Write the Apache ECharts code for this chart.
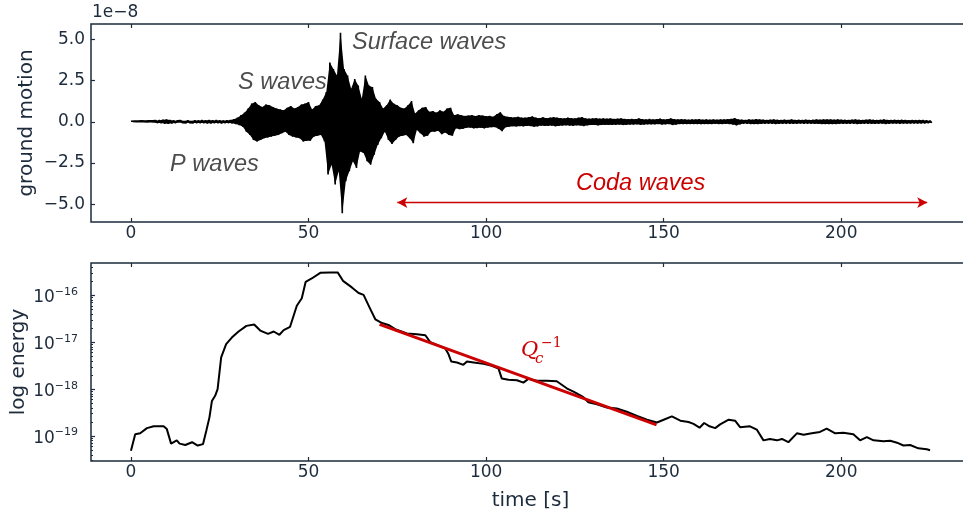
<!DOCTYPE html>
<html>
<head>
<meta charset="utf-8">
<script src="https://cdn.jsdelivr.net/npm/echarts@6/dist/echarts.min.js"></script>
<style>html,body{margin:0;padding:0;background:#fff}#c{width:963px;height:514px}</style>
</head>
<body>
<div id="c"></div>
<script>
// ---------- DATA ----------
// seismogram: peak (upper) and trough (lower) per 1-s sample, units of 1e-8
const seisStart = 0, seisStep = 1;
const seisUpper = [
0.03,0.05,0.05,0.06,0.05,0.06,0.06,0.07,0.09,0.12,
0.13,0.10,0.07,0.06,0.07,0.06,0.07,0.06,0.08,0.07,
0.09,0.08,0.10,0.08,0.09,0.08,0.07,0.08,0.10,0.15,
0.25,0.40,0.55,0.80,1.10,1.20,1.00,0.90,1.05,1.00,
0.90,0.80,0.75,0.70,0.85,0.95,0.80,0.90,1.05,1.10,
1.20,0.75,0.95,1.00,1.35,1.80,3.60,3.20,2.80,5.40,
3.20,2.80,2.00,2.60,2.20,1.40,2.80,2.20,2.10,1.40,
1.20,0.80,1.00,1.35,1.10,1.00,0.85,0.80,1.00,1.25,
0.50,0.70,0.85,0.90,0.60,0.65,0.55,0.70,0.60,0.80,
0.85,0.40,0.45,0.40,0.35,0.38,0.40,0.35,0.40,0.38,
0.33,0.35,0.30,0.45,0.57,0.35,0.30,0.28,0.26,0.30,
0.25,0.25,0.28,0.32,0.25,0.22,0.27,0.22,0.25,0.28,
0.25,0.22,0.20,0.25,0.22,0.20,0.24,0.28,0.20,0.18,
0.20,0.22,0.18,0.20,0.18,0.20,0.17,0.18,0.20,0.17,
0.15,0.17,0.15,0.20,0.15,0.14,0.16,0.14,0.15,0.18,
0.14,0.15,0.20,0.15,0.13,0.15,0.14,0.12,0.14,0.13,
0.15,0.12,0.14,0.12,0.13,0.12,0.14,0.13,0.15,0.17,
0.22,0.14,0.12,0.10,0.14,0.12,0.15,0.13,0.12,0.10,
0.12,0.14,0.11,0.10,0.12,0.10,0.13,0.10,0.11,0.10,
0.12,0.10,0.11,0.13,0.12,0.14,0.13,0.14,0.12,0.13,
0.12,0.11,0.10,0.12,0.14,0.11,0.10,0.12,0.13,0.11,
0.10,0.11,0.14,0.10,0.10,0.11,0.10,0.11,0.10,0.09,
0.10,0.09,0.10,0.09,0.08,0.06];
const seisLower = [
-0.03,-0.04,-0.05,-0.05,-0.06,-0.05,-0.06,-0.07,-0.08,-0.11,
-0.12,-0.09,-0.07,-0.06,-0.06,-0.07,-0.06,-0.07,-0.07,-0.08,
-0.08,-0.09,-0.09,-0.08,-0.08,-0.09,-0.08,-0.07,-0.09,-0.14,
-0.20,-0.30,-0.60,-0.80,-1.10,-1.20,-1.10,-1.00,-0.95,-0.90,
-0.85,-0.80,-0.70,-0.60,-0.80,-0.90,-0.95,-1.00,-1.20,-1.15,
-1.15,-0.90,-0.85,-0.80,-1.20,-3.20,-2.60,-3.80,-3.00,-5.55,
-3.60,-3.00,-2.40,-2.80,-1.80,-1.90,-2.40,-2.60,-2.00,-1.40,
-1.00,-0.60,-1.10,-1.35,-1.10,-0.90,-0.85,-0.80,-1.00,-1.30,
-0.50,-0.70,-0.90,-0.85,-0.60,-0.60,-0.55,-0.75,-0.65,-0.80,
-0.85,-0.40,-0.45,-0.42,-0.36,-0.35,-0.40,-0.38,-0.36,-0.40,
-0.35,-0.33,-0.32,-0.42,-0.57,-0.33,-0.30,-0.27,-0.28,-0.26,
-0.27,-0.24,-0.26,-0.30,-0.27,-0.23,-0.25,-0.24,-0.23,-0.27,
-0.24,-0.23,-0.21,-0.23,-0.24,-0.21,-0.22,-0.26,-0.21,-0.19,
-0.19,-0.21,-0.19,-0.18,-0.19,-0.18,-0.18,-0.17,-0.19,-0.18,
-0.16,-0.16,-0.15,-0.18,-0.16,-0.15,-0.15,-0.15,-0.14,-0.17,
-0.15,-0.14,-0.19,-0.16,-0.14,-0.14,-0.13,-0.13,-0.13,-0.14,
-0.14,-0.13,-0.13,-0.13,-0.12,-0.13,-0.13,-0.12,-0.14,-0.16,
-0.21,-0.15,-0.11,-0.11,-0.13,-0.13,-0.14,-0.12,-0.11,-0.11,
-0.11,-0.13,-0.12,-0.11,-0.11,-0.11,-0.12,-0.11,-0.10,-0.11,
-0.11,-0.11,-0.12,-0.12,-0.13,-0.13,-0.14,-0.13,-0.13,-0.12,
-0.11,-0.12,-0.11,-0.11,-0.13,-0.12,-0.11,-0.11,-0.12,-0.12,
-0.11,-0.10,-0.13,-0.11,-0.10,-0.10,-0.11,-0.10,-0.10,-0.10,
-0.09,-0.10,-0.09,-0.09,-0.08,-0.06];

// energy envelope: time [s] and log10(energy)
const energyT = [0,1.2,2.6,4.5,6.4,9.2,10.1,11.3,12.9,13.7,15.3,17.2,18.8,20.3,21.2,22.1,22.8,23.7,24.4,25.4,26.8,28.4,30.3,32.5,34.7,36.4,38.6,40.2,41.8,43,44.8,46.7,48.1,49.2,50.9,53.3,56.1,58.2,59.7,62.2,64.1,65.5,67.2,68.8,70.7,72.5,74.4,77.7,80.5,82.9,84.3,88.5,89.4,90.2,91.8,93.6,94.6,96.5,99.3,101.6,103.5,104.4,106.3,108.7,110.5,111.9,114.3,117.1,119.9,122.7,124.6,127.4,128.8,131.2,134,136.8,139.6,142.5,145.3,148.1,150,152.3,154.7,157,158.4,160.1,161.4,162.9,164.5,165.9,168.3,170.1,171.5,174.3,176.2,178.1,179.9,181.9,183.3,185.1,187.5,189.4,191.7,194,195.9,198.3,200.6,203.4,205.3,207.2,209.1,211.9,213.8,215.7,217.5,219.4,221.7,224.1,225];
const energyLog = [-19.31,-18.96,-18.94,-18.83,-18.79,-18.79,-18.85,-19.16,-19.09,-19.16,-19.19,-19.13,-19.2,-19.17,-18.89,-18.6,-18.25,-18.14,-18.0,-17.32,-17.04,-16.9,-16.77,-16.65,-16.62,-16.75,-16.82,-16.77,-16.84,-16.74,-16.67,-16.22,-16.06,-15.71,-15.64,-15.52,-15.51,-15.51,-15.69,-15.83,-15.95,-15.99,-16.26,-16.51,-16.59,-16.63,-16.72,-16.81,-16.83,-16.85,-17.0,-17.13,-17.25,-17.41,-17.43,-17.48,-17.41,-17.43,-17.46,-17.5,-17.56,-17.77,-17.8,-17.81,-17.86,-17.78,-17.82,-17.82,-17.83,-17.98,-18.05,-18.17,-18.28,-18.32,-18.39,-18.41,-18.48,-18.57,-18.65,-18.71,-18.65,-18.58,-18.67,-18.7,-18.74,-18.82,-18.72,-18.79,-18.83,-18.75,-18.65,-18.67,-18.81,-18.79,-18.86,-19.09,-19.06,-19.09,-19.06,-19.13,-18.94,-18.97,-18.94,-18.91,-18.84,-18.94,-18.93,-18.96,-19.09,-19.02,-19.09,-19.11,-19.1,-19.14,-19.2,-19.19,-19.26,-19.28,-19.3];

// Q_c fit line
const fitT = [70, 148];
const fitLog = [-16.62, -18.76];

// coda arrow span (s) and height (1e-8)
const codaSpan = [75, 224.2];
const codaY = -4.9;

// ticks
const xTicks = [0, 50, 100, 150, 200];
const motionTicks = [-5, -2.5, 0, 2.5, 5];
const energyTicks = [-19, -18, -17, -16];
const energyMinorExp = [-20, -19, -18, -17, -16];
const minorMult = [2,3,4,5,6,7,8,9];

// ---------- BUILD ----------
const seisData = [];
for (let i = 0; i < seisUpper.length; i++) {
  const t = seisStart + i * seisStep;
  seisData.push([t, seisUpper[i]]);
  seisData.push([t + seisStep / 2, seisLower[i]]);
}
const energyData = energyT.map((t, i) => [t, energyLog[i]]);
const fitData = fitT.map((t, i) => [t, fitLog[i]]);
const minorTicks = [];
energyMinorExp.forEach(e => minorMult.forEach(m => {
  const v = e + Math.log10(m);
  if (v > -19.53 && v < -15.31) minorTicks.push(v);
}));

const INK = '#1d2b3c';
const FONT = 'DejaVu Sans';
const XMIN = -11.25, XMAX = 236.25;
const labelStyle = { color: INK, fontFamily: FONT, fontSize: 17 };
const noLine = { show: false, onZero: false };

function fmtMotion(v) {
  const s = Math.abs(v).toFixed(1);
  return v < 0 ? '\u2212' + s : s;
}

// filled band between the upper and lower envelopes (drawn through the axes)
function renderBand(params, api) {
  const pts = [];
  for (let i = 0; i < seisUpper.length; i++) pts.push(api.coord([seisStart + i * seisStep, seisUpper[i]]));
  for (let i = seisLower.length - 1; i >= 0; i--) pts.push(api.coord([seisStart + i * seisStep + seisStep / 2, seisLower[i]]));
  return { type: 'polygon', shape: { points: pts }, style: { fill: '#000' }, silent: true };
}

const chart = echarts.init(document.getElementById('c'), null, { renderer: 'canvas' });
chart.setOption({
  animation: false,
  backgroundColor: '#fff',
  grid: [
    { left: 91, top: 24, width: 879, height: 198, show: true, borderColor: INK, borderWidth: 1.5, backgroundColor: 'transparent', containLabel: false, outerBoundsMode: 'none' },
    { left: 91, top: 263, width: 879, height: 198, show: true, borderColor: INK, borderWidth: 1.5, backgroundColor: 'transparent', containLabel: false, outerBoundsMode: 'none' }
  ],
  xAxis: [
    { gridIndex: 0, type: 'value', min: XMIN, max: XMAX, position: 'bottom',
      axisLine: noLine, splitLine: { show: false },
      axisTick: { inside: true, length: 4, lineStyle: { color: INK, width: 1.2 }, customValues: xTicks },
      axisLabel: Object.assign({ margin: 3, customValues: xTicks, formatter: v => String(v) }, labelStyle) },
    { gridIndex: 0, type: 'value', min: XMIN, max: XMAX, position: 'top',
      axisLine: noLine, splitLine: { show: false },
      axisTick: { inside: true, length: 4, lineStyle: { color: INK, width: 1.2 }, customValues: xTicks },
      axisLabel: { show: false } },
    { gridIndex: 1, type: 'value', min: XMIN, max: XMAX, position: 'bottom',
      name: 'time [s]', nameLocation: 'middle', nameGap: 30, nameMoveOverlap: false,
      nameTextStyle: { color: INK, fontFamily: FONT, fontSize: 20 },
      axisLine: noLine, splitLine: { show: false },
      axisTick: { inside: true, length: 4, lineStyle: { color: INK, width: 1.2 }, customValues: xTicks },
      axisLabel: Object.assign({ margin: 3, customValues: xTicks, formatter: v => String(v) }, labelStyle) },
    { gridIndex: 1, type: 'value', min: XMIN, max: XMAX, position: 'top',
      axisLine: noLine, splitLine: { show: false },
      axisTick: { inside: true, length: 4, lineStyle: { color: INK, width: 1.2 }, customValues: xTicks },
      axisLabel: { show: false } }
  ],
  yAxis: [
    { gridIndex: 0, type: 'value', min: -6.08, max: 5.93,
      name: 'ground motion', nameLocation: 'middle', nameGap: 54, nameMoveOverlap: false,
      nameTextStyle: { color: INK, fontFamily: FONT, fontSize: 20 },
      axisLine: noLine, splitLine: { show: false },
      axisTick: { inside: true, length: 4, lineStyle: { color: INK, width: 1.2 }, customValues: motionTicks },
      axisLabel: Object.assign({ margin: 6, customValues: motionTicks, formatter: fmtMotion }, labelStyle) },
    { gridIndex: 1, type: 'value', min: -19.53, max: -15.31,
      name: 'log energy', nameLocation: 'middle', nameGap: 62, nameMoveOverlap: false,
      nameTextStyle: { color: INK, fontFamily: FONT, fontSize: 20 },
      axisLine: noLine, splitLine: { show: false },
      axisTick: { inside: true, length: 4, lineStyle: { color: INK, width: 1.2 }, customValues: energyTicks },
      axisLabel: { margin: 13, customValues: energyTicks,
        formatter: v => '{b|10}{s|\u2212' + Math.round(Math.abs(v)) + '}',
        rich: {
          b: { color: INK, fontFamily: FONT, fontSize: 17, lineHeight: 22, verticalAlign: 'bottom' },
          s: { color: INK, fontFamily: FONT, fontSize: 11, lineHeight: 22, verticalAlign: 'top', padding: [2, 0, 0, 0] }
        } } },
    { gridIndex: 1, type: 'value', min: -19.53, max: -15.31, position: 'left',
      axisLine: noLine, splitLine: { show: false },
      axisTick: { inside: true, length: 2, lineStyle: { color: INK, width: 1 }, customValues: minorTicks },
      axisLabel: { show: false } }
  ],
  series: [
    { type: 'custom', xAxisIndex: 0, yAxisIndex: 0, data: [[0, 0]], renderItem: renderBand, silent: true, clip: true },
    { type: 'line', xAxisIndex: 0, yAxisIndex: 0, data: seisData, showSymbol: false, symbol: 'none',
      sampling: 'none', lineStyle: { color: '#000', width: 1.6 }, silent: true,
      markLine: { silent: true, symbol: ['arrow', 'arrow'], symbolSize: [8, 10],
        label: { show: false },
        lineStyle: { color: '#cc0000', width: 1.3, type: 'solid' },
        data: [[{ coord: [codaSpan[0], codaY] }, { coord: [codaSpan[1], codaY] }]] } },
    { type: 'line', xAxisIndex: 2, yAxisIndex: 1, data: energyData, showSymbol: false, symbol: 'none',
      lineStyle: { color: '#000', width: 2 }, silent: true },
    { type: 'line', xAxisIndex: 2, yAxisIndex: 1, data: fitData, showSymbol: false, symbol: 'none',
      lineStyle: { color: '#cc0000', width: 3 }, silent: true }
  ],
  graphic: [
    { type: 'text', left: 92, top: 4, style: { text: '1e\u22128', font: '17px "DejaVu Sans"', fill: INK } },
    { type: 'text', x: 352, y: 42, style: { text: 'Surface waves', font: 'italic 23.5px "Liberation Sans"', fill: '#4d4d4d', verticalAlign: 'middle' } },
    { type: 'text', x: 238, y: 82, style: { text: 'S waves', font: 'italic 23.5px "Liberation Sans"', fill: '#4d4d4d', verticalAlign: 'middle' } },
    { type: 'text', x: 170, y: 164, style: { text: 'P waves', font: 'italic 23.5px "Liberation Sans"', fill: '#4d4d4d', verticalAlign: 'middle' } },
    { type: 'text', x: 576, y: 183, style: { text: 'Coda waves', font: 'italic 23.5px "Liberation Sans"', fill: '#cc0000', verticalAlign: 'middle' } },
    { type: 'text', x: 521, y: 351, style: { text: 'Q', font: 'italic 21px "DejaVu Serif"', fill: '#cc0000', verticalAlign: 'middle' } },
    { type: 'text', x: 535, y: 359, style: { text: 'c', font: 'italic 15px "DejaVu Serif"', fill: '#cc0000', verticalAlign: 'middle' } },
    { type: 'text', x: 541, y: 343, style: { text: '\u22121', font: '14px "DejaVu Serif"', fill: '#cc0000', verticalAlign: 'middle' } }
  ]
});
</script>
</body>
</html>
